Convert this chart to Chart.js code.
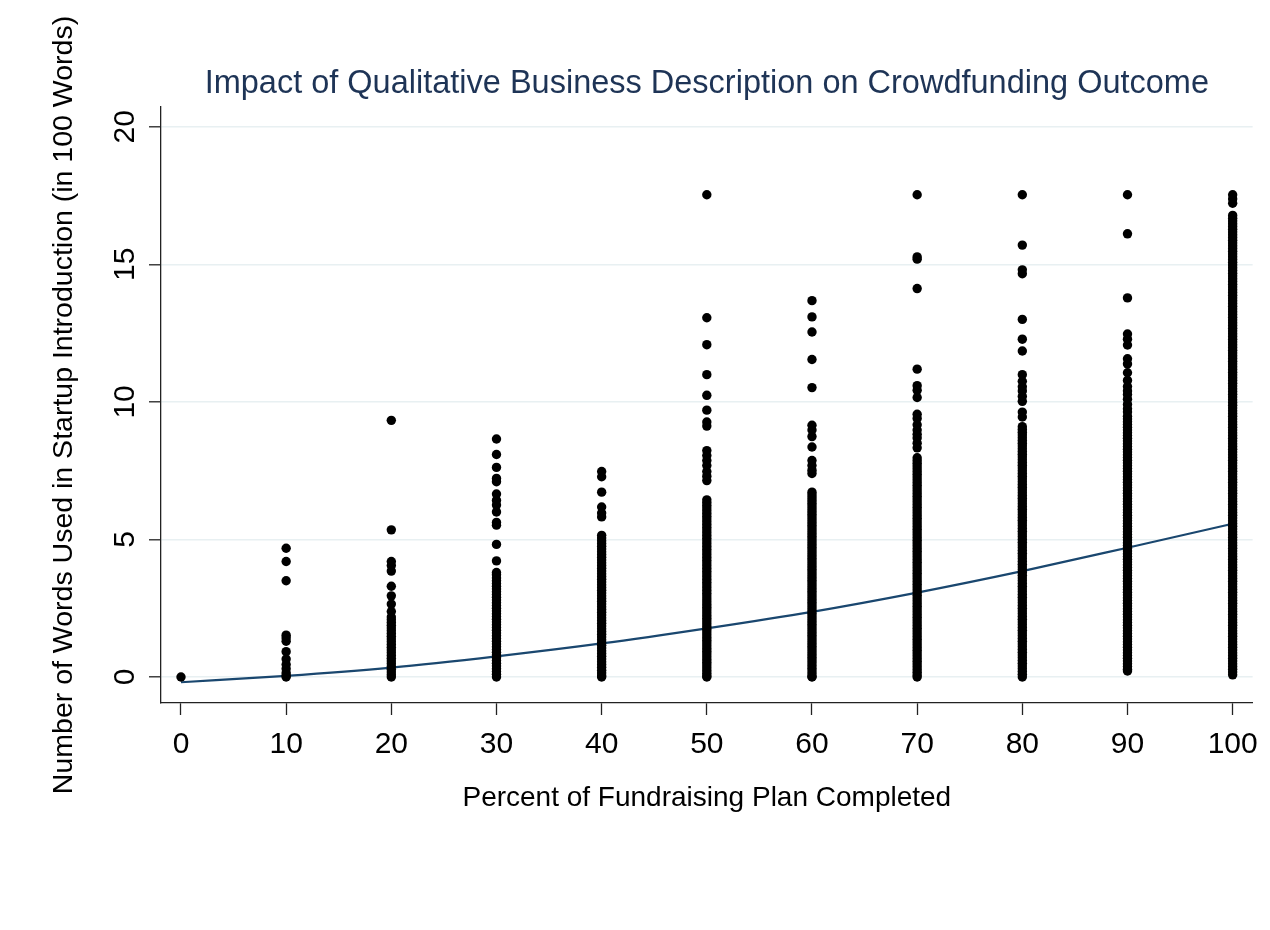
<!DOCTYPE html>
<html>
<head>
<meta charset="utf-8">
<script src="https://cdn.jsdelivr.net/npm/chart.js@4.4.1/dist/chart.umd.min.js"></script>
<style>
  html, body { margin: 0; padding: 0; background: #ffffff; }
  #wrap { width: 1270px; height: 930px; }
</style>
</head>
<body>
<div id="wrap"><canvas id="c" width="1270" height="930"></canvas></div>
<script>
// ---- Data ----
const percentCompleted = [0, 10, 20, 30, 40, 50, 60, 70, 80, 90, 100];

const words0 = [0];
const words10 = [4.68, 4.2, 3.5, 1.52, 1.42, 1.3, 0.92, 0.65, 0.45, 0.3, 0.15, 0.05, 0];
const words20 = [9.33, 5.35, 4.2, 4.05, 3.85, 3.3, 2.95, 2.65, 2.38,
  2.18, 2.08, 1.98, 1.88, 1.78, 1.68, 1.58, 1.48, 1.38, 1.28, 1.18, 1.08, 0.98, 0.88, 0.78, 0.68, 0.58, 0.48, 0.38, 0.28, 0.18, 0.08, 0];
const words30 = [8.65, 8.09, 7.62, 7.22, 7.1, 6.65, 6.42, 6.25, 6.0, 5.62, 5.52, 4.82, 4.22, 3.8, 3.72,
  3.6, 3.5, 3.4, 3.3, 3.2, 3.1, 3.0, 2.9, 2.8, 2.7, 2.6, 2.5, 2.4, 2.3, 2.2, 2.1, 2.0, 1.9, 1.8, 1.7, 1.6, 1.5, 1.4, 1.3, 1.2, 1.1, 1.0, 0.9, 0.8, 0.7, 0.6, 0.5, 0.4, 0.3, 0.2, 0.1, 0];
const words40 = [7.47, 7.28, 6.72, 6.18, 5.96, 5.82,
  5.15, 5.05, 4.95, 4.85, 4.75, 4.65, 4.55, 4.45, 4.35, 4.25, 4.15, 4.05, 3.95, 3.85, 3.75, 3.65, 3.55, 3.45, 3.35, 3.25, 3.15, 3.05, 2.95, 2.85, 2.75, 2.65, 2.55, 2.45, 2.35, 2.25, 2.15, 2.05, 1.95, 1.85, 1.75, 1.65, 1.55, 1.45, 1.35, 1.25, 1.15, 1.05, 0.95, 0.85, 0.75, 0.65, 0.55, 0.45, 0.35, 0.25, 0.15, 0.05, 0];
const words50 = [17.53, 13.06, 12.08, 10.99, 10.24, 9.7, 9.27, 9.12, 8.23, 8.05, 7.87, 7.69, 7.47, 7.3, 7.14,
  6.44, 6.34, 6.24, 6.14, 6.04, 5.94, 5.84, 5.74, 5.64, 5.54, 5.44, 5.34, 5.24, 5.14, 5.04, 4.94, 4.84, 4.74, 4.64, 4.54, 4.44, 4.34, 4.24, 4.14, 4.04, 3.94, 3.84, 3.74, 3.64, 3.54, 3.44, 3.34, 3.24, 3.14, 3.04, 2.94, 2.84, 2.74, 2.64, 2.54, 2.44, 2.34, 2.24, 2.14, 2.04, 1.94, 1.84, 1.74, 1.64, 1.54, 1.44, 1.34, 1.24, 1.14, 1.04, 0.94, 0.84, 0.74, 0.64, 0.54, 0.44, 0.34, 0.24, 0.14, 0.04, 0];
const words60 = [13.68, 13.09, 12.54, 11.54, 10.52, 9.15, 8.98, 8.74, 8.36, 7.87, 7.69, 7.52, 7.4,
  6.72, 6.62, 6.52, 6.42, 6.32, 6.22, 6.12, 6.02, 5.92, 5.82, 5.72, 5.62, 5.52, 5.42, 5.32, 5.22, 5.12, 5.02, 4.92, 4.82, 4.72, 4.62, 4.52, 4.42, 4.32, 4.22, 4.12, 4.02, 3.92, 3.82, 3.72, 3.62, 3.52, 3.42, 3.32, 3.22, 3.12, 3.02, 2.92, 2.82, 2.72, 2.62, 2.52, 2.42, 2.32, 2.22, 2.12, 2.02, 1.92, 1.82, 1.72, 1.62, 1.52, 1.42, 1.32, 1.22, 1.12, 1.02, 0.92, 0.82, 0.72, 0.62, 0.52, 0.42, 0.32, 0.22, 0.12, 0.02, 0];
const words70 = [17.53, 15.27, 15.19, 14.12, 11.19, 10.59, 10.42, 10.16, 9.55, 9.4, 9.17, 8.98, 8.82, 8.69, 8.5, 8.33,
  7.97, 7.87, 7.77, 7.67, 7.57, 7.47, 7.37, 7.27, 7.17, 7.07, 6.97, 6.87, 6.77, 6.67, 6.57, 6.47, 6.37, 6.27, 6.17, 6.07, 5.97, 5.87, 5.77, 5.67, 5.57, 5.47, 5.37, 5.27, 5.17, 5.07, 4.97, 4.87, 4.77, 4.67, 4.57, 4.47, 4.37, 4.27, 4.17, 4.07, 3.97, 3.87, 3.77, 3.67, 3.57, 3.47, 3.37, 3.27, 3.17, 3.07, 2.97, 2.87, 2.77, 2.67, 2.57, 2.47, 2.37, 2.27, 2.17, 2.07, 1.97, 1.87, 1.77, 1.67, 1.57, 1.47, 1.37, 1.27, 1.17, 1.07, 0.97, 0.87, 0.77, 0.67, 0.57, 0.47, 0.37, 0.27, 0.17, 0.07, 0];
const words80 = [17.53, 15.7, 14.8, 14.66, 13.0, 12.28, 11.85, 10.99, 10.75, 10.55, 10.4, 10.2, 10.02, 9.63, 9.45,
  9.1, 9.0, 8.9, 8.8, 8.7, 8.6, 8.5, 8.4, 8.3, 8.2, 8.1, 8.0, 7.9, 7.8, 7.7, 7.6, 7.5, 7.4, 7.3, 7.2, 7.1, 7.0, 6.9, 6.8, 6.7, 6.6, 6.5, 6.4, 6.3, 6.2, 6.1, 6.0, 5.9, 5.8, 5.7, 5.6, 5.5, 5.4, 5.3, 5.2, 5.1, 5.0, 4.9, 4.8, 4.7, 4.6, 4.5, 4.4, 4.3, 4.2, 4.1, 4.0, 3.9, 3.8, 3.7, 3.6, 3.5, 3.4, 3.3, 3.2, 3.1, 3.0, 2.9, 2.8, 2.7, 2.6, 2.5, 2.4, 2.3, 2.2, 2.1, 2.0, 1.9, 1.8, 1.7, 1.6, 1.5, 1.4, 1.3, 1.2, 1.1, 1.0, 0.9, 0.8, 0.7, 0.6, 0.5, 0.4, 0.3, 0.2, 0.1, 0];
const words90 = [17.53, 16.11, 13.78, 12.47, 12.28, 12.07, 11.57, 11.38, 11.06, 10.78, 10.56, 10.4, 10.27, 10.1, 9.91, 9.75, 9.63,
  9.48, 9.38, 9.28, 9.18, 9.08, 8.98, 8.88, 8.78, 8.68, 8.58, 8.48, 8.38, 8.28, 8.18, 8.08, 7.98, 7.88, 7.78, 7.68, 7.58, 7.48, 7.38, 7.28, 7.18, 7.08, 6.98, 6.88, 6.78, 6.68, 6.58, 6.48, 6.38, 6.28, 6.18, 6.08, 5.98, 5.88, 5.78, 5.68, 5.58, 5.48, 5.38, 5.28, 5.18, 5.08, 4.98, 4.88, 4.78, 4.68, 4.58, 4.48, 4.38, 4.28, 4.18, 4.08, 3.98, 3.88, 3.78, 3.68, 3.58, 3.48, 3.38, 3.28, 3.18, 3.08, 2.98, 2.88, 2.78, 2.68, 2.58, 2.48, 2.38, 2.28, 2.18, 2.08, 1.98, 1.88, 1.78, 1.68, 1.58, 1.48, 1.38, 1.28, 1.18, 1.08, 0.98, 0.88, 0.78, 0.68, 0.58, 0.48, 0.38, 0.28, 0.22];
const words100 = [17.53, 17.38, 17.22,
  16.78, 16.68, 16.58, 16.48, 16.38, 16.28, 16.18, 16.08, 15.98, 15.88, 15.78, 15.68, 15.58, 15.48, 15.38, 15.28, 15.18, 15.08, 14.98, 14.88, 14.78, 14.68, 14.58, 14.48, 14.38, 14.28, 14.18, 14.08, 13.98, 13.88, 13.78, 13.68, 13.58, 13.48, 13.38, 13.28, 13.18, 13.08, 12.98, 12.88, 12.78, 12.68, 12.58, 12.48, 12.38, 12.28, 12.18, 12.08, 11.98, 11.88, 11.78, 11.68, 11.58, 11.48, 11.38, 11.28, 11.18, 11.08, 10.98, 10.88, 10.78, 10.68, 10.58, 10.48, 10.38, 10.28, 10.18, 10.08, 9.98, 9.88, 9.78, 9.68, 9.58, 9.48, 9.38, 9.28, 9.18, 9.08, 8.98, 8.88, 8.78, 8.68, 8.58, 8.48, 8.38, 8.28, 8.18, 8.08, 7.98, 7.88, 7.78, 7.68, 7.58, 7.48, 7.38, 7.28, 7.18, 7.08, 6.98, 6.88, 6.78, 6.68, 6.58, 6.48, 6.38, 6.28, 6.18, 6.08, 5.98, 5.88, 5.78, 5.68, 5.58, 5.48, 5.38, 5.28, 5.18, 5.08, 4.98, 4.88, 4.78, 4.68, 4.58, 4.48, 4.38, 4.28, 4.18, 4.08, 3.98, 3.88, 3.78, 3.68, 3.58, 3.48, 3.38, 3.28, 3.18, 3.08, 2.98, 2.88, 2.78, 2.68, 2.58, 2.48, 2.38, 2.28, 2.18, 2.08, 1.98, 1.88, 1.78, 1.68, 1.58, 1.48, 1.38, 1.28, 1.18, 1.08, 0.98, 0.88, 0.78, 0.68, 0.58, 0.48, 0.38, 0.28, 0.18, 0.08];

// Quadratic fit line values read at each x
const fitValues = [-0.19, 0.04, 0.34, 0.75, 1.22, 1.77, 2.37, 3.07, 3.85, 4.70, 5.57];

const xTickLabels = ['0', '10', '20', '30', '40', '50', '60', '70', '80', '90', '100'];
const yTickValues = [0, 5, 10, 15, 20];
const yTickLabels = ['0', '5', '10', '15', '20'];

// ---- Build chart data ----
const columns = [words0, words10, words20, words30, words40, words50, words60, words70, words80, words90, words100];
const scatterPoints = [];
columns.forEach((col, i) => {
  col.forEach(v => scatterPoints.push({ x: percentCompleted[i], y: v }));
});
const fitPoints = percentCompleted.map((x, i) => ({ x: x, y: fitValues[i] }));

const FONT = '"Liberation Sans", Arial, Helvetica, sans-serif';

new Chart(document.getElementById('c'), {
  type: 'scatter',
  data: {
    datasets: [
      {
        label: 'Words',
        data: scatterPoints,
        backgroundColor: '#000000',
        borderWidth: 0,
        pointRadius: 4.7,
        pointHoverRadius: 4.7,
        showLine: false
      },
      {
        label: 'Fitted values',
        data: fitPoints,
        showLine: true,
        borderColor: '#1a476f',
        borderWidth: 2.2,
        pointRadius: 0,
        fill: false,
        tension: 0.4,
        cubicInterpolationMode: 'monotone'
      }
    ]
  },
  options: {
    responsive: false,
    animation: false,
    devicePixelRatio: 1,
    layout: { padding: { left: 47, right: 17, top: 0, bottom: 111 } },
    plugins: {
      legend: { display: false },
      tooltip: { enabled: false },
      title: {
        display: true,
        text: 'Impact of Qualitative Business Description on Crowdfunding Outcome',
        color: '#1e3456',
        fullSize: false,
        font: { family: FONT, size: 32.5, weight: 'normal' },
        padding: { top: 65, bottom: 3 }
      }
    },
    scales: {
      x: {
        type: 'linear',
        min: -1.9,
        max: 101.9,
        afterFit: (scale) => { scale.height = 116; },
        border: { display: true, color: '#222222', width: 1.3 },
        grid: { drawOnChartArea: false, drawTicks: true, tickLength: 12, tickColor: '#222222', tickWidth: 1.3 },
        ticks: {
          stepSize: 10,
          includeBounds: false,
          autoSkip: false,
          maxRotation: 0,
          padding: 12,
          color: '#000000',
          font: { family: FONT, size: 30 },
          callback: (v) => { const i = percentCompleted.indexOf(v); return i >= 0 ? xTickLabels[i] : ''; }
        },
        title: {
          display: true,
          text: 'Percent of Fundraising Plan Completed',
          color: '#000000',
          font: { family: FONT, size: 28 },
          padding: { top: 4, bottom: 4 }
        }
      },
      y: {
        type: 'linear',
        min: -0.945,
        max: 20.72,
        afterFit: (scale) => { scale.width = 114; },
        border: { display: true, color: '#222222', width: 1.3 },
        grid: { color: '#e8f0f2', lineWidth: 1.6, drawTicks: true, tickLength: 12, tickColor: '#222222', tickWidth: 1.3 },
        ticks: {
          stepSize: 5,
          includeBounds: false,
          autoSkip: false,
          minRotation: 90,
          maxRotation: 90,
          crossAlign: 'center',
          padding: 7,
          color: '#000000',
          font: { family: FONT, size: 30 },
          callback: (v) => { const i = yTickValues.indexOf(v); return i >= 0 ? yTickLabels[i] : ''; }
        },
        title: {
          display: true,
          text: 'Number of Words Used in Startup Introduction (in 100 Words)',
          color: '#000000',
          font: { family: FONT, size: 28.5 },
          padding: { top: 0, bottom: 0 }
        }
      }
    }
  }
});
</script>
</body>
</html>
